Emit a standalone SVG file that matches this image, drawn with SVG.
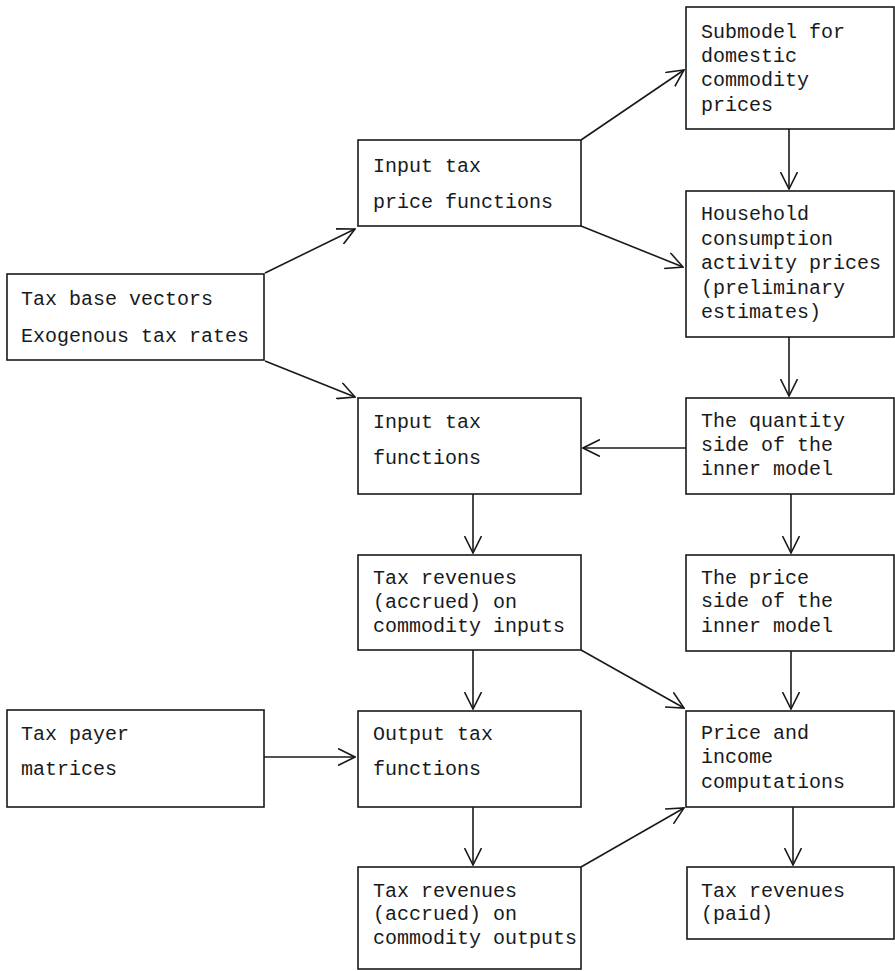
<svg xmlns="http://www.w3.org/2000/svg" width="895" height="971" viewBox="0 0 895 971">
<defs>
<style>
.box{fill:#fff;stroke:#1a1a1a;stroke-width:1.6}
.t{font-family:"Liberation Mono","DejaVu Sans Mono",monospace;font-size:20px;fill:#1a1a1a}
.c{fill:none;stroke:#1a1a1a;stroke-width:1.6}
</style>
<marker id="ah" viewBox="0 0 18 18" refX="17" refY="9" markerWidth="18" markerHeight="18" markerUnits="userSpaceOnUse" orient="auto">
<path d="M0,0.5 L17,9 L0,17.5" fill="none" stroke="#1a1a1a" stroke-width="1.6"/>
</marker>
</defs>
<rect width="895" height="971" fill="#fff"/>
<g id="connectors">
<line class="c" x1="265" y1="273" x2="355" y2="229" marker-end="url(#ah)"/>
<line class="c" x1="265" y1="361" x2="355" y2="397" marker-end="url(#ah)"/>
<line class="c" x1="581" y1="140" x2="684" y2="70" marker-end="url(#ah)"/>
<line class="c" x1="581" y1="226" x2="683" y2="267" marker-end="url(#ah)"/>
<line class="c" x1="789" y1="129" x2="789" y2="189" marker-end="url(#ah)"/>
<line class="c" x1="789" y1="337" x2="789" y2="396" marker-end="url(#ah)"/>
<line class="c" x1="686" y1="448" x2="583" y2="448" marker-end="url(#ah)"/>
<line class="c" x1="473" y1="494" x2="473" y2="553" marker-end="url(#ah)"/>
<line class="c" x1="791" y1="494" x2="791" y2="553" marker-end="url(#ah)"/>
<line class="c" x1="473" y1="650" x2="473" y2="709" marker-end="url(#ah)"/>
<line class="c" x1="581" y1="650" x2="684" y2="708" marker-end="url(#ah)"/>
<line class="c" x1="791" y1="651" x2="791" y2="709" marker-end="url(#ah)"/>
<line class="c" x1="264" y1="757" x2="355" y2="757" marker-end="url(#ah)"/>
<line class="c" x1="473" y1="807" x2="473" y2="865" marker-end="url(#ah)"/>
<line class="c" x1="581" y1="867" x2="684" y2="808" marker-end="url(#ah)"/>
<line class="c" x1="793" y1="807" x2="793" y2="865" marker-end="url(#ah)"/>
</g>
<g id="taxbase">
<rect class="box" x="7" y="274" width="257" height="86"/>
<text class="t" x="21" y="305">Tax base vectors</text>
<text class="t" x="21" y="342">Exogenous tax rates</text>
</g>
<g id="inputprice">
<rect class="box" x="358" y="140" width="223" height="86"/>
<text class="t" x="373" y="172">Input tax</text>
<text class="t" x="373" y="208">price functions</text>
</g>
<g id="submodel">
<rect class="box" x="686" y="7" width="208" height="122"/>
<text class="t" x="701" y="38">Submodel for</text>
<text class="t" x="701" y="62">domestic</text>
<text class="t" x="701" y="86">commodity</text>
<text class="t" x="701" y="111">prices</text>
</g>
<g id="household">
<rect class="box" x="686" y="191" width="208" height="146"/>
<text class="t" x="701" y="220">Household</text>
<text class="t" x="701" y="245">consumption</text>
<text class="t" x="701" y="269">activity prices</text>
<text class="t" x="701" y="294">(preliminary</text>
<text class="t" x="701" y="318">estimates)</text>
</g>
<g id="inputtax">
<rect class="box" x="358" y="398" width="223" height="96"/>
<text class="t" x="373" y="428">Input tax</text>
<text class="t" x="373" y="464">functions</text>
</g>
<g id="quantity">
<rect class="box" x="686" y="398" width="208" height="96"/>
<text class="t" x="701" y="427">The quantity</text>
<text class="t" x="701" y="451">side of the</text>
<text class="t" x="701" y="475">inner model</text>
</g>
<g id="revinputs">
<rect class="box" x="358" y="555" width="223" height="95"/>
<text class="t" x="373" y="584">Tax revenues</text>
<text class="t" x="373" y="608">(accrued) on</text>
<text class="t" x="373" y="632">commodity inputs</text>
</g>
<g id="priceside">
<rect class="box" x="686" y="555" width="208" height="96"/>
<text class="t" x="701" y="584">The price</text>
<text class="t" x="701" y="607">side of the</text>
<text class="t" x="701" y="632">inner model</text>
</g>
<g id="taxpayer">
<rect class="box" x="7" y="710" width="257" height="97"/>
<text class="t" x="21" y="740">Tax payer</text>
<text class="t" x="21" y="775">matrices</text>
</g>
<g id="outputtax">
<rect class="box" x="358" y="711" width="223" height="96"/>
<text class="t" x="373" y="740">Output tax</text>
<text class="t" x="373" y="775">functions</text>
</g>
<g id="priceincome">
<rect class="box" x="686" y="711" width="208" height="96"/>
<text class="t" x="701" y="739">Price and</text>
<text class="t" x="701" y="763">income</text>
<text class="t" x="701" y="788">computations</text>
</g>
<g id="revoutputs">
<rect class="box" x="358" y="867" width="223" height="102"/>
<text class="t" x="373" y="897">Tax revenues</text>
<text class="t" x="373" y="920">(accrued) on</text>
<text class="t" x="373" y="944">commodity outputs</text>
</g>
<g id="paid">
<rect class="box" x="687" y="867" width="207" height="72"/>
<text class="t" x="701" y="897">Tax revenues</text>
<text class="t" x="701" y="920">(paid)</text>
</g>
</svg>
